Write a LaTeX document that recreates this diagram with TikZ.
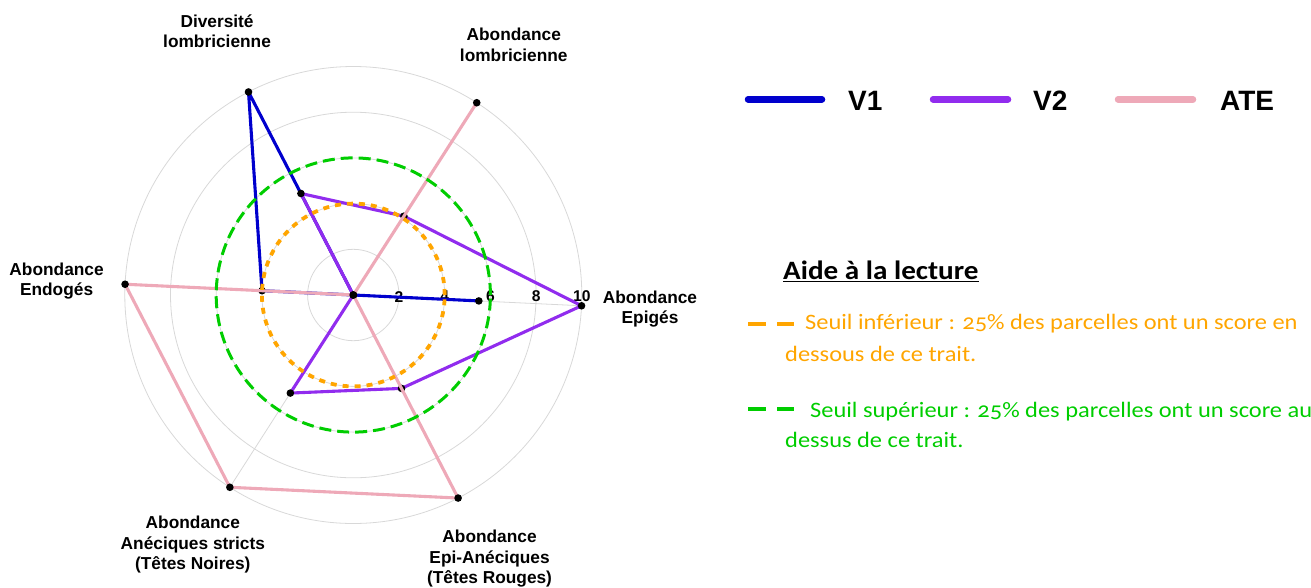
\documentclass[tikz,border=0pt]{standalone}
\usepackage{fontspec}
\setmainfont{Liberation Sans}
\newfontfamily\calibfont{Carlito}[Numbers=OldStyle, FakeStretch=1.11]
\newfontfamily\calibtitre{Carlito}[FakeStretch=1.1]
\definecolor{vunblue}{HTML}{0000CD}
\definecolor{vdeuxpurple}{HTML}{912CEE}
\definecolor{atepink}{HTML}{EEA9B8}
\definecolor{seuilorange}{HTML}{FFA500}
\definecolor{seuilgreen}{HTML}{00CD00}
\definecolor{gridgray}{HTML}{D8D8D8}
\begin{document}
\begin{tikzpicture}
  [x=1pt, y=-1pt,
    gridline/.style={draw=gridgray, line width=0.8pt},
    axislabel/.style={font=\bfseries\fontsize{17.3}{20.5}\selectfont,
    align=center, inner sep=0pt},
    tick/.style={font=\bfseries\fontsize{15.6}{18}\selectfont, inner sep=0pt},
    serie/.style={line width=3.1pt, line join=round},
    seuilbas/.style={draw=seuilorange, line width=3.8pt, dash pattern=on 6pt off 6pt},
    seuilhaut/.style={draw=seuilgreen, line width=3pt, dash pattern=on 12pt off 6pt},
    legline/.style={line width=6.5pt, line cap=round},
    legtext/.style={font=\bfseries\fontsize{28}{32}\selectfont, inner sep=0pt, anchor=west},
    aide/.style={font=\calibfont\fontsize{22}{30}\selectfont, inner sep=0pt, anchor=base west},
    aidemark/.style={line width=4pt}]
  \useasboundingbox (0,0) rectangle (1311,587);
  \begin{scope}[shift={(353.3,295)}, x=22.85pt, y=22.85pt]
    \coordinate (o) at (0,0);
    \foreach \r in {2,4,...,10}
      \draw[gridline] (o) circle[radius={\r*22.85pt}];
    \foreach \i in {0,...,5}
      \coordinate (ax\i) at ({-2.7+60*\i}:10);
    \foreach \i in {0,...,5}
      \draw[gridline] (o) -- (ax\i);
    \foreach \t in {2,4,...,10}
      \node[tick] (t\t) at (\t,-0.07) {\t};
    \node[axislabel] (epi) at (-2.7:13) {Abondance\\Epigés};
    \node[axislabel] (lom) at (57.3:13) {Abondance\\lombricienne};
    \node[axislabel] (div) at (117.3:13) {Diversité\\lombricienne};
    \node[axislabel] (endo) at (177.3:13) {Abondance\\Endogés};
    \node[axislabel] (anec) at (237.3:13) {Abondance\\Anéciques stricts\\(Têtes Noires)};
    \node[axislabel] (epian) at (297.3:13) {Abondance\\Epi-Anéciques\\(Têtes Rouges)};
    \foreach \v [count=\i from 0] in {5.5,0,10,4,0,0}
      \coordinate (v1-\i) at ({-2.7+60*\i}:\v);
    \foreach \v [count=\i from 0] in {10,4.1,5,0,5.1,4.6}
      \coordinate (v2-\i) at ({-2.7+60*\i}:\v);
    \foreach \v [count=\i from 0] in {0,10,0,10,10,10}
      \coordinate (ate-\i) at ({-2.7+60*\i}:\v);
    \draw[serie, vunblue] (v1-0) -- (v1-1) -- (v1-2) -- (v1-3) -- (v1-4) -- (v1-5) -- cycle;
    \foreach \i in {0,...,5}
      \fill (v1-\i) circle[radius=3.8pt];
    \draw[serie, vdeuxpurple] (v2-0) -- (v2-1) -- (v2-2) -- (v2-3) -- (v2-4) -- (v2-5) -- cycle;
    \foreach \i in {0,...,5}
      \fill (v2-\i) circle[radius=3.8pt];
    \draw[serie, atepink] (ate-0) -- (ate-1) -- (ate-2) -- (ate-3) -- (ate-4) -- (ate-5) -- cycle;
    \foreach \i in {0,...,5}
      \fill (ate-\i) circle[radius=3.8pt];
    \draw[seuilbas] (o) circle[radius=91.4pt];
    \draw[seuilhaut] (o) circle[radius=137.1pt];
  \end{scope}
  \draw[legline, vunblue] (748,99.3) -- (822,99.3);
  \node[legtext] (lv1) at (848,101) {V1};
  \draw[legline, vdeuxpurple] (933,99.3) -- (1008,99.3);
  \node[legtext] (lv2) at (1033,101) {V2};
  \draw[legline, atepink] (1118,99.3) -- (1193,99.3);
  \node[legtext] (late) at (1220,101) {ATE};
  \node[font=\calibtitre\bfseries\fontsize{26.5}{30}\selectfont, inner sep=0pt,
    anchor=base west] (titre) at (783,279.2) {\underline{Aide à la lecture}};
  \draw[aidemark, seuilorange] (748,324) -- (766,324) (777,324) -- (794,324);
  \node[aide, text=seuilorange] (bas1) at (805,329.3)
    {Seuil inférieur : 25\% des parcelles ont un score en};
  \node[aide, text=seuilorange] (bas2) at (785,361) {dessous de ce trait.};
  \draw[aidemark, seuilgreen] (748,409) -- (766,409) (777,409) -- (794,409);
  \node[aide, text=seuilgreen] (haut1) at (810,417.3)
    {Seuil supérieur : 25\% des parcelles ont un score au};
  \node[aide, text=seuilgreen] (haut2) at (785,447.7) {dessus de ce trait.};
\end{tikzpicture}
\end{document}
